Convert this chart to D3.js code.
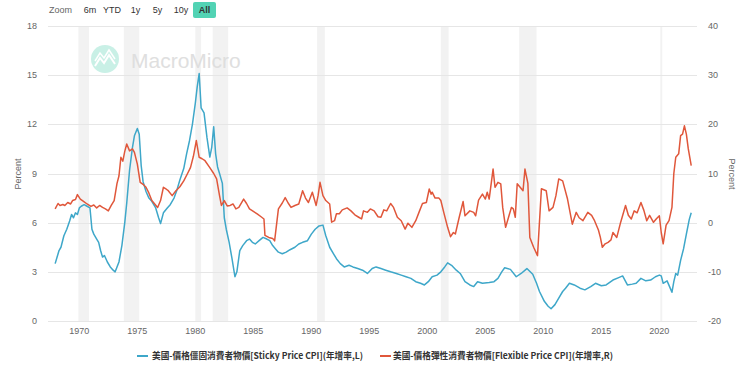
<html>
  <head>
    <script src="https://d3js.org/d3.v7.min.js"></script>
    <style>
      body { margin: 0; background: #fff; }
      svg { display: block; font-family: "Liberation Sans", Arial, sans-serif; }
    </style>
  </head>
  <body>
    <script>
      // Sticky Price CPI, YoY %, left axis
      var stickyDates = ["1967-12","1968-02","1968-04","1968-06","1968-09","1968-12","1969-03","1969-05","1969-07","1969-09","1969-11",
        "1970-01","1970-03","1970-06","1970-09","1970-12","1971-02","1971-04","1971-07","1971-09","1971-11","1972-01","1972-03","1972-06",
        "1972-09","1972-12","1973-02","1973-04","1973-06","1973-09","1973-12","1974-02","1974-05","1974-08","1974-10","1975-01","1975-03",
        "1975-05","1975-07","1975-10","1976-01","1976-04","1976-08","1976-11","1977-01","1977-04","1977-08","1977-11","1978-03","1978-06",
        "1978-09","1979-01","1979-04","1979-07","1979-10","1980-01","1980-03","1980-05","1980-07","1980-10","1981-01","1981-04","1981-06",
        "1981-08","1981-10","1981-12","1982-02","1982-05","1982-07","1982-09","1982-12","1983-03","1983-06","1983-08","1983-11","1984-02",
        "1984-06","1984-09","1984-12","1985-03","1985-07","1985-11","1986-03","1986-06","1986-09","1986-12","1987-03","1987-07","1987-11",
        "1988-03","1988-08","1988-12","1989-04","1989-09","1990-01","1990-05","1990-09","1991-01","1991-04","1991-08","1991-12","1992-03",
        "1992-07","1992-11","1993-04","1993-08","1994-01","1994-06","1994-11","1995-04","1995-08","1996-01","1996-06","1996-11","1997-05",
        "1997-10","1998-03","1998-08","1999-01","1999-06","1999-10","2000-02","2000-06","2000-11","2001-03","2001-07","2001-10","2002-02",
        "2002-07","2002-11","2003-04","2003-09","2004-01","2004-05","2004-10","2005-05","2005-10","2006-02","2006-06","2006-09","2007-03",
        "2007-09","2008-02","2008-08","2009-02","2009-06","2009-09","2010-02","2010-06","2010-09","2011-01","2011-05","2011-09","2011-12",
        "2012-04","2012-09","2013-03","2013-08","2014-02","2014-07","2015-01","2015-06","2016-01","2016-07","2016-11","2017-04","2017-09",
        "2018-01","2018-06","2018-11","2019-04","2019-09","2020-01","2020-03","2020-05","2020-09","2021-01","2021-02","2021-04","2021-06",
        "2021-08","2021-11","2022-02","2022-05","2022-08","2022-10"];
      var stickyValues = [3.5,3.9,4.3,4.5,5.2,5.6,6.1,6.5,6.3,6.6,6.5,
        6.9,7.0,7.1,7.0,6.9,5.6,5.3,5.0,4.8,4.3,3.9,4.0,3.6,
        3.3,3.1,3.0,3.3,3.6,4.6,6.0,7.2,9.2,10.6,11.3,11.75,11.4,
        9.5,8.5,7.9,7.5,7.3,6.9,6.3,5.95,6.6,6.9,7.1,7.5,8.0,
        8.6,9.3,10.2,11.0,12.0,13.3,14.3,15.1,13.0,12.7,11.2,10.0,10.6,
        11.85,10.2,9.4,9.0,8.4,6.3,5.6,4.8,3.8,2.7,3.0,4.3,4.6,
        4.9,5.0,4.8,4.7,4.9,5.1,5.0,4.9,4.6,4.4,4.2,4.1,4.2,
        4.35,4.5,4.7,4.8,4.9,5.3,5.6,5.8,5.85,5.2,4.5,4.1,3.8,
        3.5,3.3,3.4,3.3,3.2,3.1,2.9,3.2,3.3,3.2,3.1,3.0,2.9,
        2.8,2.7,2.6,2.4,2.3,2.2,2.4,2.7,2.8,3.0,3.3,3.55,3.4,
        3.1,2.9,2.4,2.2,2.1,2.4,2.3,2.35,2.4,2.6,3.0,3.25,3.15,
        2.7,2.9,3.2,2.85,2.3,1.8,1.2,0.9,0.75,1.0,1.4,1.8,2.0,
        2.3,2.2,2.0,1.9,2.1,2.3,2.15,2.2,2.5,2.65,2.75,2.2,2.25,
        2.3,2.6,2.45,2.5,2.7,2.8,2.75,2.3,2.45,1.9,1.75,2.4,2.9,
        2.8,3.7,4.4,5.3,6.2,6.6];

      // Flexible Price CPI, YoY %, right axis
      var flexDates = [
        "1967-12","1968-03","1968-05","1968-08","1968-10","1969-01","1969-04","1969-06","1969-09","1969-11",
        "1970-02","1970-05","1970-09","1971-01","1971-04","1971-07","1971-10","1972-01","1972-04","1972-07",
        "1972-10","1973-01","1973-04","1973-06","1973-08","1973-10","1973-12","1974-02","1974-05","1974-08",
        "1974-10","1975-01","1975-04","1975-07","1975-10","1976-01","1976-04","1976-07","1976-10","1977-01",
        "1977-04","1977-07","1977-09","1978-01","1978-05","1978-09","1979-01","1979-05","1979-08","1979-11",
        "1980-02","1980-05","1980-08","1980-11","1981-04","1981-08","1981-11","1982-02","1982-04","1982-07",
        "1982-10","1983-01","1983-04","1983-07","1983-10","1984-03","1984-06","1984-09","1985-01","1985-05",
        "1985-09","1985-12","1986-01","1986-05","1986-09","1986-11","1987-03","1987-07","1987-10","1988-01",
        "1988-04","1988-08","1988-12","1989-04","1989-07","1989-10","1990-02","1990-06","1990-08","1990-10",
        "1991-01","1991-04","1991-08","1991-10","1992-01","1992-03","1992-06","1992-09","1993-02","1993-06",
        "1993-10","1994-02","1994-05","1994-07","1994-11","1995-02","1995-06","1995-10","1996-01","1996-04",
        "1996-07","1996-11","1997-02","1997-06","1997-10","1998-02","1998-05","1998-09","1999-01","1999-05",
        "1999-08","1999-12","2000-03","2000-05","2000-06","2000-09","2001-01","2001-03","2001-06","2001-10",
        "2002-01","2002-04","2002-06","2002-10","2003-02","2003-04","2003-09","2004-01","2004-03","2004-06",
        "2004-10","2005-01","2005-03","2005-05","2005-09","2005-11","2006-02","2006-05","2006-07","2006-10",
        "2007-01","2007-04","2007-06","2007-08","2007-10","2008-01","2008-04","2008-06","2008-09","2008-11",
        "2009-03","2009-07","2009-11","2010-04","2010-07","2010-11","2011-02","2011-05","2011-09","2012-02",
        "2012-07","2012-11","2013-02","2013-06","2013-11","2014-03","2014-06","2014-10","2014-12","2015-02",
        "2015-05","2015-08","2015-11","2016-01","2016-05","2016-09","2017-02","2017-05","2017-08","2017-11",
        "2018-02","2018-06","2018-09","2018-12","2019-03","2019-07","2019-10","2020-01","2020-03","2020-05",
        "2020-08","2020-11","2021-02","2021-04","2021-06","2021-09","2021-11","2022-01","2022-03","2022-05",
        "2022-07","2022-10"];
      var flexValues = [
        2.8,3.9,3.5,3.7,3.5,4.1,3.8,4.5,4.7,5.7,
        4.8,4.4,3.8,3.3,3.6,3.0,3.5,3.1,2.8,2.4,
        3.5,4.5,8.0,9.5,13.3,12.5,14.5,16.0,14.6,15.0,
        14.3,11.9,8.2,7.8,7.2,6.0,4.5,3.8,3.1,4.5,
        7.2,6.8,6.5,5.5,6.5,7.3,8.5,10.0,11.2,13.5,
        16.7,13.3,13.0,12.6,11.2,10.0,8.9,5.5,3.5,4.5,
        3.4,3.5,3.8,2.8,3.1,4.8,3.9,2.8,2.3,1.8,
        1.2,0.75,-2.6,-3.0,-3.2,-3.7,2.8,4.0,5.1,4.0,
        3.1,3.5,3.8,6.5,5.0,4.1,6.2,3.5,5.5,8.2,
        5.5,4.5,3.8,0.1,0.4,1.8,1.8,2.6,3.0,2.4,
        1.6,1.1,0.75,2.4,2.1,2.8,2.4,1.2,1.1,2.6,
        2.4,3.9,3.1,1.1,0.4,-1.3,-0.1,-0.95,0.4,2.4,
        3.9,4.1,6.85,5.8,6.2,5.0,5.0,4.5,2.1,-0.95,
        -2.85,-2.0,-2.3,1.1,4.3,1.4,2.4,2.1,1.4,4.6,
        5.8,4.8,6.2,4.8,10.9,7.2,8.2,7.9,3.1,-0.95,
        1.1,3.1,2.8,1.1,7.9,7.2,6.5,10.9,8.0,-3.0,
        -5.0,-6.7,6.9,6.5,2.4,3.1,5.5,8.9,8.5,4.8,
        -0.3,2.1,1.0,0.4,2.1,1.5,0.4,-1.5,-3.0,-5.0,
        -4.3,-4.0,-3.5,-2.0,-3.0,0.1,3.5,1.5,0.75,2.4,
        2.0,4.1,2.5,0.4,1.5,0.07,0.8,1.4,-2.0,-4.3,
        -0.5,0.4,3.1,10.0,13.3,14.0,17.7,18.0,19.7,18.0,
        15.0,11.6];

      // US recessions (shaded)
      var recessionStart = ["1969-12","1973-11","1980-01","1981-07","1990-07","2001-03","2007-12","2020-02"];
      var recessionEnd   = ["1970-11","1975-03","1980-07","1982-11","1991-03","2001-11","2009-06","2020-04"];

      var leftTicks = [0, 3, 6, 9, 12, 15, 18];
      var rightTicks = [-20, -10, 0, 10, 20, 30, 40];
      var yearTicks = [1970, 1975, 1980, 1985, 1990, 1995, 2000, 2005, 2010, 2015, 2020];
      var rangeButtons = ["6m", "YTD", "1y", "5y", "10y", "All"];
      var seriesNames = ["美國-價格僵固消費者物價[Sticky Price CPI](年增率,L)", "美國-價格彈性消費者物價[Flexible Price CPI](年增率,R)"];

      var width = 740, height = 368;
      var plotL = 48, plotR = 697, plotT = 26, plotB = 321;
      var blue = "#3ea7c9", red = "#e0573b";
      var parse = d3.timeParse("%Y-%m");

      var svg = d3.select("body").append("svg").attr("width", width).attr("height", height);

      var x = d3.scaleTime()
        .domain([new Date(1967, 3, 20), new Date(2023, 3, 1)])
        .range([plotL, plotR]);
      var yL = d3.scaleLinear().domain([0, 18]).range([plotB, plotT]);
      var yR = d3.scaleLinear().domain([-20, 40]).range([plotB, plotT]);

      // recession bands
      svg.selectAll("rect.rec")
        .data(recessionStart)
        .enter().append("rect")
        .attr("x", function(d) { return x(parse(d)); })
        .attr("width", function(d, i) { return x(parse(recessionEnd[i])) - x(parse(d)); })
        .attr("y", plotT)
        .attr("height", plotB - plotT)
        .attr("fill", "#f2f2f2");

      // gridlines
      svg.selectAll("line.grid")
        .data(leftTicks)
        .enter().append("line")
        .attr("x1", plotL).attr("x2", plotR)
        .attr("y1", function(d) { return Math.round(yL(d)) + 0.5; })
        .attr("y2", function(d) { return Math.round(yL(d)) + 0.5; })
        .attr("stroke", "#e6e6e6");

      // watermark
      var wm = svg.append("g").attr("opacity", 0.9);
      wm.append("circle").attr("cx", 105).attr("cy", 59).attr("r", 14).attr("fill", "#c4efe4");
      wm.append("path")
        .attr("d", "M95,66 L100,58 L104,63 L109,55 L115,64")
        .attr("fill", "none").attr("stroke", "#fff").attr("stroke-width", 2);
      wm.append("path")
        .attr("d", "M95,61 L100,53 L104,58 L109,50 L115,59")
        .attr("fill", "none").attr("stroke", "#fff").attr("stroke-width", 1.5);
      wm.append("text")
        .attr("x", 131).attr("y", 68)
        .attr("font-size", "21px")
        .attr("fill", "#dcdcdc")
        .text("MacroMicro");

      // axes labels
      svg.append("g").selectAll("text")
        .data(leftTicks)
        .enter().append("text")
        .attr("x", 37)
        .attr("y", function(d) { return yL(d) + 3; })
        .attr("text-anchor", "end")
        .attr("font-size", "9px")
        .attr("fill", "#666")
        .text(function(d) { return d; });

      svg.append("g").selectAll("text")
        .data(rightTicks)
        .enter().append("text")
        .attr("x", 708)
        .attr("y", function(d) { return yR(d) + 3; })
        .attr("font-size", "9px")
        .attr("fill", "#666")
        .text(function(d) { return d; });

      svg.append("g").selectAll("text")
        .data(yearTicks)
        .enter().append("text")
        .attr("x", function(d) { return x(new Date(d, 0, 1)); })
        .attr("y", 334)
        .attr("text-anchor", "middle")
        .attr("font-size", "9px")
        .attr("fill", "#666")
        .text(function(d) { return d; });

      svg.append("text")
        .attr("transform", "translate(21,174) rotate(-90)")
        .attr("text-anchor", "middle")
        .attr("font-size", "9px")
        .attr("fill", "#666")
        .text("Percent");
      svg.append("text")
        .attr("transform", "translate(729,174) rotate(90)")
        .attr("text-anchor", "middle")
        .attr("font-size", "9px")
        .attr("fill", "#666")
        .text("Percent");

      // lines
      var sticky = stickyDates.map(function(d, i) { return { date: parse(d), value: stickyValues[i] }; });
      var flex = flexDates.map(function(d, i) { return { date: parse(d), value: flexValues[i] }; });

      var lineL = d3.line().x(function(d) { return x(d.date); }).y(function(d) { return yL(d.value); });
      var lineR = d3.line().x(function(d) { return x(d.date); }).y(function(d) { return yR(d.value); });

      svg.append("path").datum(sticky)
        .attr("d", lineL)
        .attr("fill", "none").attr("stroke", blue).attr("stroke-width", 1.5)
        .attr("stroke-linejoin", "round");
      svg.append("path").datum(flex)
        .attr("d", lineR)
        .attr("fill", "none").attr("stroke", red).attr("stroke-width", 1.5)
        .attr("stroke-linejoin", "round");

      // range selector
      svg.append("text").attr("x", 49).attr("y", 13)
        .attr("font-size", "9px").attr("fill", "#666").text("Zoom");
      var btnX = [83, 103, 130, 152, 173, 193];
      var btnW = [14, 18, 11, 11, 16, 23];
      var btn = svg.append("g").selectAll("g")
        .data(rangeButtons)
        .enter().append("g");
      btn.append("rect")
        .attr("x", function(d, i) { return btnX[i] - (i == 5 ? 0 : 2); })
        .attr("y", 2).attr("width", function(d, i) { return i == 5 ? 23 : btnW[i] + 4; }).attr("height", 16)
        .attr("rx", 2)
        .attr("fill", function(d) { return d == "All" ? "#52d3b4" : "none"; });
      btn.append("text")
        .attr("x", function(d, i) { return i == 5 ? 204.5 : btnX[i] + btnW[i] / 2; })
        .attr("y", 13)
        .attr("text-anchor", "middle")
        .attr("font-size", "9px")
        .attr("font-weight", function(d) { return d == "All" ? "bold" : "normal"; })
        .attr("fill", "#333")
        .text(function(d) { return d; });

      // legend
      var legX = [137, 380], legTextX = [152, 393], legLen = [211, 220], legColor = [blue, red];
      var leg = svg.append("g").selectAll("g")
        .data(seriesNames)
        .enter().append("g");
      leg.append("line")
        .attr("x1", function(d, i) { return legX[i]; })
        .attr("x2", function(d, i) { return legX[i] + 11; })
        .attr("y1", 356).attr("y2", 356)
        .attr("stroke", function(d, i) { return legColor[i]; })
        .attr("stroke-width", 2);
      leg.append("text")
        .attr("x", function(d, i) { return legTextX[i]; })
        .attr("y", 359)
        .attr("font-size", "9px")
        .attr("font-weight", 600)
        .attr("font-family", "'Noto Sans CJK TC', 'Noto Sans', sans-serif")
        .attr("fill", "#333")
        .attr("textLength", function(d, i) { return legLen[i]; })
        .attr("lengthAdjust", "spacingAndGlyphs")
        .text(function(d) { return d; });
    </script>
  </body>
</html>
